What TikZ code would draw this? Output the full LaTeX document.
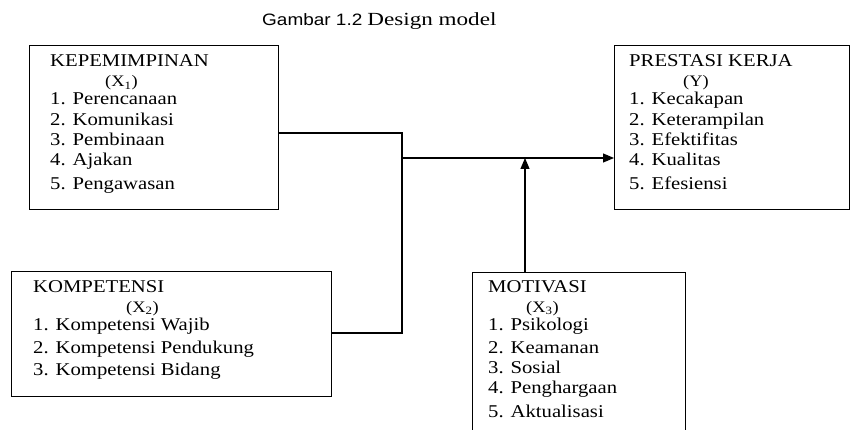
\documentclass[tikz,border=0pt]{standalone}
\usepackage{fontspec}
\setmainfont{Liberation Serif}[FakeStretch=1.15]
\newfontfamily\titlesans{Liberation Sans}[FakeStretch=1.15]
\newfontfamily\titleserif{Liberation Serif}[FakeStretch=1.25]
\usetikzlibrary{arrows.meta}

\begin{document}
\begin{tikzpicture}[x=1pt, y=-1pt,
    box/.style={draw, line width=1.3pt, inner sep=0pt, anchor=north west},
    item/.style={anchor=base west, inner sep=0pt, font=\fontsize{18}{20}\selectfont},
    var/.style={item, font=\fontsize{16}{18}\selectfont},
    link/.style={line width=1.2pt},
    tip/.style={-{Triangle[length=11pt, width=9pt]}}]
  \useasboundingbox (0,0) rectangle (850,430);
  \node[anchor=base west, inner sep=0pt] (title) at (262,26)
    {{\titlesans\fontsize{16.5}{18}\selectfont Gambar 1.2}\hspace{5pt}{\titleserif\fontsize{18.5}{20}\selectfont Design model}};

  % boxes
  \node[box, minimum width=249pt, minimum height=164pt] (x1) at (29,45) {};
  \node[box, minimum width=235pt, minimum height=164pt] (y) at (614,45) {};
  \node[box, minimum width=320pt, minimum height=125pt] (x2) at (11,271) {};
  \node[box, minimum width=213pt, minimum height=180pt] (x3) at (472,272) {};

  % X1
  \node[item] (x1h) at (50,67) {KEPEMIMPINAN};
  \node[var] (x1v) at (105,87) {(X\textsubscript{1})};
  \foreach \y/\t [count=\i] in {105/Perencanaan, 126/Komunikasi, 146/Pembinaan, 166/Ajakan, 190/Pengawasan}
    \node[item] (x1-\i) at (50,\y) {\i. \t};

  % Y
  \node[item] (yh) at (629,67) {PRESTASI KERJA};
  \node[var] (yv) at (683,87) {(Y)};
  \foreach \y/\t [count=\i] in {105/Kecakapan, 126/Keterampilan, 146/Efektifitas, 166/Kualitas, 190/Efesiensi}
    \node[item] (y-\i) at (629,\y) {\i. \t};

  % X2
  \node[item] (x2h) at (33,292) {KOMPETENSI};
  \node[var] (x2v) at (126,312) {(X\textsubscript{2})};
  \foreach \y/\t [count=\i] in {330/Kompetensi Wajib, 353/Kompetensi Pendukung, 375/Kompetensi Bidang}
    \node[item] (x2-\i) at (33,\y) {\i. \t};

  % X3
  \node[item] (x3h) at (488,292) {MOTIVASI};
  \node[var] (x3v) at (526,312) {(X\textsubscript{3})};
  \foreach \y/\t [count=\i] in {330/Psikologi, 353/Keamanan, 373/Sosial, 393/Penghargaan, 417/Aktualisasi}
    \node[item] (x3-\i) at (488,\y) {\i. \t};

  % connectors
  \coordinate (bend1) at (402,133);
  \coordinate (bend2) at (402,333);
  \coordinate (join) at (402,158);
  \coordinate (up) at (525,158);
  \draw[link] (x1.east |- bend1) -- (bend1) -- (bend2) -- (x2.east |- bend2);
  \draw[link, tip] (join) -- (y.west |- join);
  \draw[link, tip] (x3.north -| up) -- (up);
\end{tikzpicture}
\end{document}
